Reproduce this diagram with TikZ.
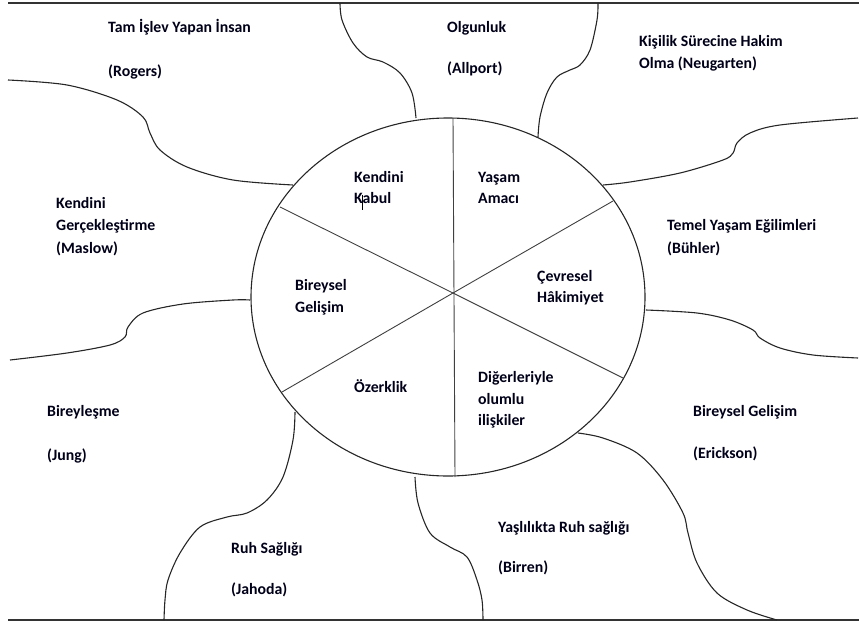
\documentclass[tikz,border=0pt]{standalone}
\usepackage{fontspec}
\setmainfont{Carlito}
\begin{document}
\begin{tikzpicture}[x=1pt,y=-1pt,
  lbl/.style={anchor=base west,inner sep=0pt,font=\fontsize{15.8}{18}\selectfont\bfseries,text=black!90!blue},
  wave/.style={line width=1.1pt,black!85},
  spoke/.style={line width=0.9pt,black!75},
  rule/.style={line width=1.6pt,black!80}]
\useasboundingbox (0,0) rectangle (859,626);
% frame lines
\coordinate (tl) at (8,3); \coordinate (tr) at (859,3);
\coordinate (bl) at (8,620); \coordinate (br) at (859,620);
\draw[rule] (tl) -- (tr);
\draw[rule] (bl) -- (br);
% central ellipse
\coordinate (C) at (453,293);
\draw[wave] (448,297) ellipse [x radius=197pt, y radius=179pt];
\coordinate (vt) at (453,118); \coordinate (vb) at (455,477);
\coordinate (ul) at (280,207); \coordinate (ll) at (282,392);
\coordinate (ur) at (613,201); \coordinate (lr) at (623,378);
\draw[spoke] (vt) -- (vb);
\draw[spoke] (ul) -- (C) -- (lr);
\draw[spoke] (ll) -- (C) -- (ur);
% wavy boundaries
\draw[wave] plot[smooth,tension=0.55] coordinates {(340,3) (342,20) (353,43) (367,57) (383,62) (400,73) (412,93) (416,118)};
\draw[wave] plot[smooth,tension=0.55] coordinates {(598,3) (597,20) (590,50) (580,65) (570,70) (557,77) (547,93) (540,117) (538,137)};
\draw[wave] plot[smooth,tension=0.55] coordinates {(603,185) (630,182) (680,173) (723,160) (733,153) (737,143) (750,133) (780,125) (858,118)};
\draw[wave] plot[smooth,tension=0.55] coordinates {(646,310) (697,313) (730,320) (753,330) (760,338) (780,348) (813,355) (858,358)};
\draw[wave] plot[smooth,tension=0.55] coordinates {(578,433) (603,438) (637,453) (663,480) (683,513) (688,533) (697,563) (717,593) (747,610) (777,620)};
\draw[wave] plot[smooth,tension=0.55] coordinates {(415,477) (418,503) (430,533) (450,547) (467,557) (477,580) (482,600) (483,620)};
\draw[wave] plot[smooth,tension=0.55] coordinates {(295,412) (293,440) (283,477) (267,500) (247,513) (227,517) (200,527) (180,553) (168,580) (165,600) (164,620)};
\draw[wave] plot[smooth,tension=0.55] coordinates {(250,300) (233,300) (183,304) (143,313) (128,327) (125,337) (110,345) (67,353) (10,360)};
\draw[wave] plot[smooth,tension=0.55] coordinates {(8,80) (67,85) (117,100) (143,117) (150,133) (160,150) (187,167) (233,180) (293,185)};
% cursor mark
\draw[line width=0.8pt] (362,195) -- (362,210);
% outer labels
\node[lbl] (t1a) at (108,33) {Tam İşlev Yapan İnsan};
\node[lbl] (t1b) at (108,77) {(Rogers)};
\node[lbl] (t2a) at (447,33) {Olgunluk};
\node[lbl] (t2b) at (447,74) {(Allport)};
\node[lbl] (t3a) at (639,47) {Kişilik Sürecine Hakim};
\node[lbl] (t3b) at (639,68) {Olma (Neugarten)};
\node[lbl] (t4a) at (56,208) {Kendini};
\node[lbl] (t4b) at (56,230) {Gerçekleştirme};
\node[lbl] (t4c) at (56,253) {(Maslow)};
\node[lbl] (t5a) at (667,230) {Temel Yaşam Eğilimleri};
\node[lbl] (t5b) at (667,253) {(Bühler)};
\node[lbl] (t6a) at (47,416) {Bireyleşme};
\node[lbl] (t6b) at (47,460) {(Jung)};
\node[lbl] (t7a) at (231,553) {Ruh Sağlığı};
\node[lbl] (t7b) at (231,594) {(Jahoda)};
\node[lbl] (t8a) at (498,532) {Yaşlılıkta Ruh sağlığı};
\node[lbl] (t8b) at (498,572) {(Birren)};
\node[lbl] (t9a) at (693,416) {Bireysel Gelişim};
\node[lbl] (t9b) at (693,458) {(Erickson)};
% inner labels
\node[lbl] (i1a) at (354,182) {Kendini};
\node[lbl] (i1b) at (354,203) {Kabul};
\node[lbl] (i2a) at (478,182) {Yaşam};
\node[lbl] (i2b) at (478,203) {Amacı};
\node[lbl] (i3a) at (295,290) {Bireysel};
\node[lbl] (i3b) at (295,312) {Gelişim};
\node[lbl] (i4a) at (537,281) {Çevresel};
\node[lbl] (i4b) at (537,302) {Hâkimiyet};
\node[lbl] (i5a) at (354,392) {Özerklik};
\node[lbl] (i6a) at (478,382) {Diğerleriyle};
\node[lbl] (i6b) at (478,404) {olumlu};
\node[lbl] (i6c) at (478,425) {ilişkiler};
\end{tikzpicture}
\end{document}
